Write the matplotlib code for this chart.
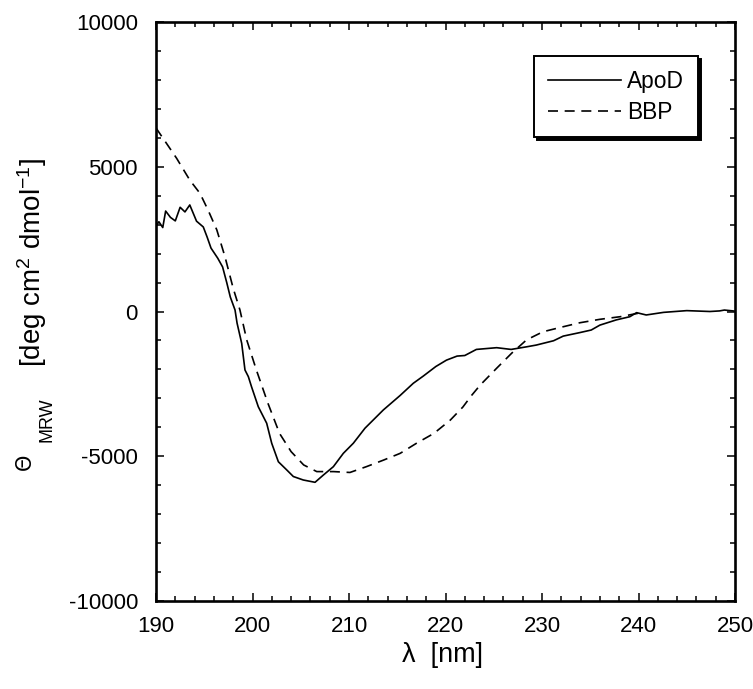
import matplotlib
matplotlib.use("Agg")
import matplotlib.pyplot as plt
from matplotlib.ticker import MultipleLocator

plt.rcParams['font.family'] = ['Liberation Sans', 'DejaVu Sans']
plt.rcParams['mathtext.default'] = 'regular'
plt.rcParams['axes.unicode_minus'] = False

# ApoD (solid) : wavelength [nm], Theta_MRW
apod_nm = [190.0, 190.3, 190.7, 191.0, 191.5, 192.0, 192.5, 193.0, 193.5, 194.2,
           194.9, 195.3, 195.7, 196.4, 196.9, 197.33, 197.7, 198.19, 198.4, 198.88,
           199.22, 199.57, 199.9, 200.6, 201.47, 201.99, 202.68, 203.54, 204.23, 205.26,
           206.48, 207.34, 208.38, 209.41, 210.45, 211.66, 213.56, 215.3, 216.66, 217.7,
           219.0, 220.1, 221.2, 222.0, 223.2, 225.3, 226.8, 228.4, 229.4, 231.2,
           232.2, 233.9, 235.1, 236.0, 237.7, 239.1, 239.8, 240.8, 242.6, 245.0,
           247.4, 248.4, 248.9, 249.8, 250.0]
apod_val = [2950, 3100, 2900, 3470, 3250, 3130, 3600, 3440, 3680, 3120,
            2920, 2570, 2190, 1840, 1540, 1000, 500, 52, -400, -1100,
            -2020, -2250, -2600, -3290, -3860, -4550, -5190, -5470, -5700, -5820,
            -5900, -5650, -5360, -4900, -4550, -4030, -3400, -2900, -2480, -2230,
            -1900, -1680, -1540, -1520, -1310, -1250, -1310, -1220, -1160, -1010,
            -850, -730, -640, -470, -290, -180, -40, -120, -30, 30,
            0, 20, 50, 20, 10]

# BBP (dashed)
bbp_nm = [190.0, 191.0, 192.14, 193.5, 194.56, 195.4, 196.3, 197.15, 198.0, 198.7,
          199.4, 200.4, 201.6, 202.8, 204.0, 205.3, 206.66, 208.4, 210.1, 211.8,
          213.6, 215.3, 217.0, 218.8, 220.5, 221.8, 222.7, 223.6, 225.3, 226.86,
          228.4, 230.1, 231.9, 233.9, 236.0, 238.1, 239.5, 240.0]
bbp_val = [6340, 5850, 5290, 4540, 4080, 3500, 2820, 1890, 800, 50,
           -980, -2020, -3170, -4210, -4840, -5300, -5530, -5530, -5560, -5360,
           -5130, -4900, -4550, -4210, -3750, -3300, -2900, -2540, -1960, -1440,
           -980, -700, -550, -390, -270, -180, -90, -60]

series_labels = ["ApoD", "BBP"]
x_ticks = [190, 200, 210, 220, 230, 240, 250]
y_ticks = [-10000, -5000, 0, 5000, 10000]

W, H = 753, 689
fig = plt.figure(figsize=(W / 100, H / 100), dpi=100)
ax = fig.add_axes([156 / W, (H - 601) / H, 579 / W, 579 / H])

ax.plot(apod_nm, apod_val, color='black', lw=1.2, label=series_labels[0])
ax.plot(bbp_nm, bbp_val, color='black', lw=1.2, linestyle=(0, (6, 4)), label=series_labels[1])

ax.set_xlim(190, 250)
ax.set_ylim(-10000, 10000)
ax.set_xticks(x_ticks)
ax.set_yticks(y_ticks)
ax.xaxis.set_minor_locator(MultipleLocator(2))
ax.yaxis.set_minor_locator(MultipleLocator(1000))
ax.tick_params(which='both', direction='in', top=True, right=True, width=1.1, labelsize=16)
ax.tick_params(which='major', length=5.5)
ax.tick_params(which='minor', length=3.5)
ax.tick_params(axis='y', which='major', pad=13)
ax.tick_params(axis='x', which='major', pad=11)
for s in ax.spines.values():
    s.set_linewidth(1.9)

leg = ax.legend(loc='upper right', bbox_to_anchor=((698 - 156) / 579, (601 - 56) / 579),
                frameon=True, fancybox=False, edgecolor='black', fontsize=16.4,
                handlelength=3.2, handletextpad=0.3, borderpad=0.6, labelspacing=0.35,
                borderaxespad=0.0,
                shadow={'color': 'black', 'alpha': 1.0})
leg.get_frame().set_linewidth(1.4)

# y-axis label pieces
fig.text(25 / W, 1 - 462 / H, "Θ", rotation=90, fontsize=15, family='DejaVu Sans',
         ha='center', va='center')
fig.text(47 / W, 1 - 420 / H, "MRW", rotation=90, fontsize=13, ha='center', va='center')
fig.text(32 / W, 1 - 262 / H, "[deg cm$^{2}$ dmol$^{-1}$]", rotation=90, fontsize=20,
         ha='center', va='center')

# x-axis label
fig.text(443 / W, 1 - 655 / H, "λ  [nm]", fontsize=19.5, ha='center', va='center')

fig.savefig("out.png", dpi=100)
